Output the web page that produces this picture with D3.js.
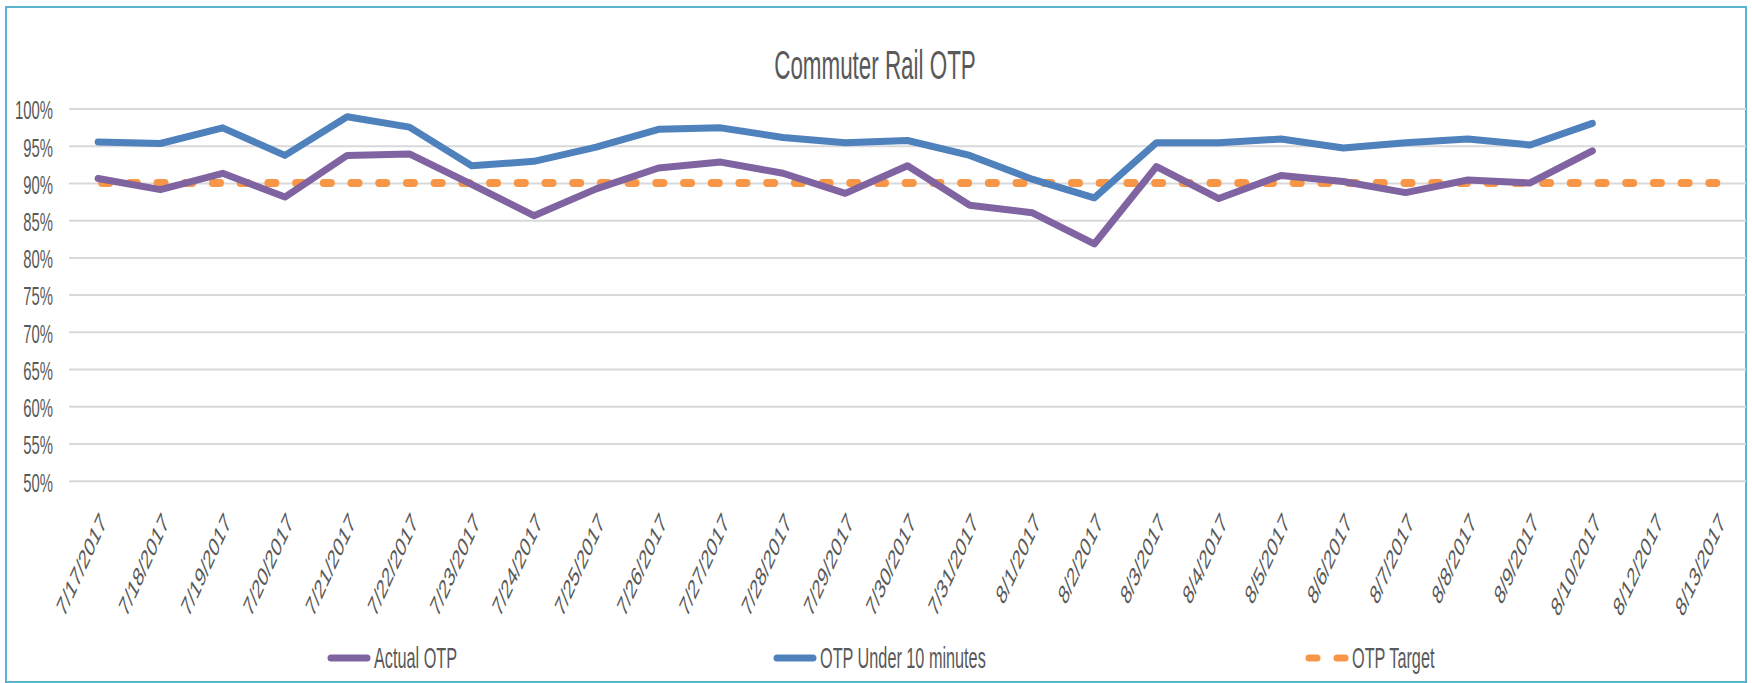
<!DOCTYPE html>
<html>
<head>
<meta charset="utf-8">
<script src="https://cdn.jsdelivr.net/npm/d3@7"></script>
<style>
  html, body { margin: 0; padding: 0; background: #ffffff; }
  svg { display: block; }
  text { font-family: "Liberation Sans", Arial, sans-serif; fill: #595959; }
</style>
</head>
<body>
<svg id="chart" width="1752" height="683"></svg>
<script>
// ---- data ----
const categories = ["7/17/2017","7/18/2017","7/19/2017","7/20/2017","7/21/2017","7/22/2017","7/23/2017",
  "7/24/2017","7/25/2017","7/26/2017","7/27/2017","7/28/2017","7/29/2017","7/30/2017","7/31/2017",
  "8/1/2017","8/2/2017","8/3/2017","8/4/2017","8/5/2017","8/6/2017","8/7/2017","8/8/2017","8/9/2017",
  "8/10/2017","8/12/2017","8/13/2017"];
const actualOTP = [90.6, 89.1, 91.3, 88.1, 93.7, 93.9, 89.8, 85.6, 89.2, 92.0, 92.8, 91.3, 88.6, 92.3,
  87.0, 86.0, 81.8, 92.2, 87.9, 91.0, 90.2, 88.7, 90.4, 90.0, 94.3];
const otpUnder10 = [95.5, 95.3, 97.4, 93.7, 98.9, 97.5, 92.3, 92.9, 94.8, 97.2, 97.4, 96.1, 95.4, 95.7,
  93.7, 90.5, 88.0, 95.4, 95.4, 95.9, 94.7, 95.4, 95.9, 95.1, 98.0];
const otpTarget = [90, 90, 90, 90, 90, 90, 90, 90, 90, 90, 90, 90, 90, 90, 90, 90, 90, 90, 90, 90,
  90, 90, 90, 90, 90, 90, 90];
const yTicks = [50, 55, 60, 65, 70, 75, 80, 85, 90, 95, 100];
const seriesNames = ["Actual OTP", "OTP Under 10 minutes", "OTP Target"];
const titleText = "Commuter Rail OTP";

// ---- layout / style ----
const SX = 0.56; // horizontal condensation of text, as in the reference
const colors = { actual: "#8064A2", under10: "#4F81BD", target: "#F79646" };
const svg = d3.select("#chart");

// outer border
svg.append("rect").attr("x", 6).attr("y", 7).attr("width", 1740).attr("height", 675)
  .attr("fill", "#ffffff").attr("stroke", "#5ab4cf").attr("stroke-width", 2);

const x = d3.scalePoint().domain(categories).range([67, 1748]).padding(0.5);
const y = d3.scaleLinear().domain([50, 100]).range([480.7, 108.5]);

// title
svg.append("text").attr("transform", `translate(875,79.3) scale(${SX},1)`)
  .attr("text-anchor", "middle").style("font-size", "40px").text(titleText);

// y axis with gridlines
const yAxis = svg.append("g").attr("transform", "translate(69,0)")
  .call(d3.axisLeft(y).tickValues(yTicks).tickSize(-1677).tickFormat(d => d + "%"));
yAxis.select(".domain").remove();
yAxis.selectAll(".tick line").attr("stroke", "#d9d9d9").attr("stroke-width", 2);
yAxis.selectAll(".tick text")
  .attr("x", 0).attr("dy", 0).attr("y", 0)
  .attr("transform", `translate(-16,10.3) scale(${SX},1)`)
  .attr("text-anchor", "end")
  .style("font-size", "26.5px").attr("fill", "#595959");

// x axis labels
const xAxis = svg.append("g").attr("transform", "translate(0,480.7)")
  .call(d3.axisBottom(x).tickSize(0));
xAxis.select(".domain").remove();
xAxis.selectAll(".tick text")
  .attr("x", 0).attr("y", 0).attr("dy", 0)
  .attr("transform", `translate(8.5,42.5) scale(${SX},1) rotate(-51)`)
  .attr("text-anchor", "end")
  .style("font-size", "27.5px").attr("fill", "#595959");
svg.selectAll("g").attr("font-family", null).attr("font-size", null);

// lines
const line = d3.line().x((d, i) => x(categories[i])).y(d => y(d));

svg.append("path").datum(otpTarget).attr("d", line)
  .attr("fill", "none").attr("stroke", colors.target).attr("stroke-width", 8)
  .attr("stroke-dasharray", "7,20.71").attr("stroke-dashoffset", 23.71)
  .attr("stroke-linecap", "round");

svg.append("path").datum(actualOTP).attr("d", line)
  .attr("fill", "none").attr("stroke", colors.actual).attr("stroke-width", 7)
  .attr("stroke-linejoin", "round").attr("stroke-linecap", "round");

svg.append("path").datum(otpUnder10).attr("d", line)
  .attr("fill", "none").attr("stroke", colors.under10).attr("stroke-width", 7)
  .attr("stroke-linejoin", "round").attr("stroke-linecap", "round");

// legend
const legendItems = [
  { name: seriesNames[0], color: colors.actual, x: 327, dash: false },
  { name: seriesNames[1], color: colors.under10, x: 773, dash: false },
  { name: seriesNames[2], color: colors.target, x: 1305, dash: true }
];
const lg = svg.append("g");
legendItems.forEach(it => {
  const g = lg.append("g").attr("transform", `translate(${it.x},658)`);
  g.append("line").attr("x1", 4).attr("x2", 40).attr("y1", 0).attr("y2", 0)
    .attr("stroke", it.color).attr("stroke-width", 7).attr("stroke-linecap", "round")
    .attr("stroke-dasharray", it.dash ? "8,20" : null);
  g.append("text").attr("transform", `translate(47,9.7) scale(${SX},1)`)
    .style("font-size", "29px").text(it.name);
});
</script>
</body>
</html>
